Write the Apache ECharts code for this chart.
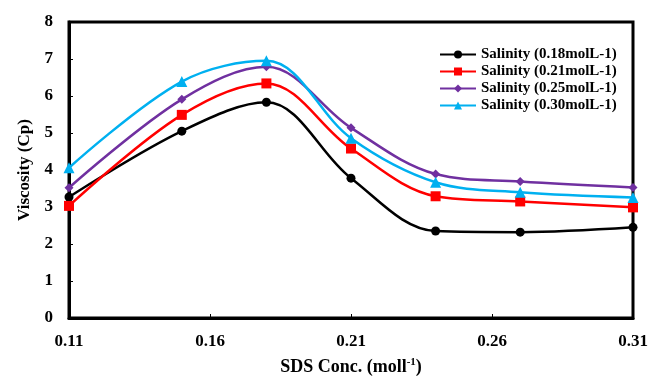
<!DOCTYPE html>
<html>
<head>
<meta charset="utf-8">
<script src="https://cdn.jsdelivr.net/npm/echarts@6/dist/echarts.min.js"></script>
<style>
  html, body { margin: 0; padding: 0; background: #fff; }
  #chart { width: 651px; height: 376px; }
</style>
</head>
<body>
<div id="chart"></div>
<script>
// SDS concentration (x) and viscosity (Cp) per salinity
const sdsConc = [0.11, 0.15, 0.18, 0.21, 0.24, 0.27, 0.31];
const xTicks = [0.11, 0.16, 0.21, 0.26, 0.31];
const sal018 = [3.27, 5.05, 5.83, 3.78, 2.35, 2.32, 2.45];
const sal021 = [3.03, 5.49, 6.34, 4.58, 3.29, 3.15, 2.99];
const sal025 = [3.52, 5.91, 6.79, 5.14, 3.89, 3.69, 3.53];
const sal030 = [4.06, 6.39, 6.95, 4.86, 3.67, 3.40, 3.26];

const font = 'Liberation Serif';
const pair = ys => sdsConc.map((x, i) => [x, ys[i]]);

function line(name, data, color, symbol, size) {
  return {
    name,
    type: 'line',
    smooth: 0.35,
    data: pair(data),
    symbol,
    symbolSize: size,
    lineStyle: { color, width: 2.5 },
    itemStyle: { color }
  };
}

const chart = echarts.init(document.getElementById('chart'));
chart.setOption({
  backgroundColor: '#fff',
  animation: false,
  grid: {
    left: 69, right: 18, top: 22, bottom: 58,
    outerBoundsMode: 'none',
    show: true, borderColor: '#000', borderWidth: 3
  },
  legend: {
    orient: 'vertical',
    left: 434,
    top: 42,
    itemWidth: 36,
    itemHeight: 10,
    itemGap: 2,
    textStyle: { fontFamily: font, fontWeight: 'bold', fontSize: 15, color: '#000', lineHeight: 14 }
  },
  xAxis: {
    type: 'value',
    min: 0.11,
    max: 0.31,
    name: '{a|SDS Conc. (moll}{s|-1}{a|)}',
    nameLocation: 'middle',
    nameGap: 39,
    nameTextStyle: {
      rich: {
        a: { fontFamily: font, fontWeight: 'bold', fontSize: 18, color: '#000' },
        s: { fontFamily: font, fontWeight: 'bold', fontSize: 11, color: '#000', verticalAlign: 'top', padding: [0, 0, 9, 0] }
      }
    },
    axisLine: { lineStyle: { color: '#000', width: 3 } },
    axisTick: { inside: true, length: 4, customValues: xTicks, lineStyle: { color: '#000' } },
    axisLabel: {
      customValues: xTicks,
      margin: 15,
      formatter: v => v.toFixed(2),
      fontFamily: font, fontWeight: 'bold', fontSize: 17, color: '#000'
    },
    splitLine: { show: false }
  },
  yAxis: {
    type: 'value',
    min: 0,
    max: 8,
    interval: 1,
    name: 'Viscosity (Cp)',
    nameLocation: 'middle',
    nameGap: 36,
    nameTextStyle: { fontFamily: font, fontWeight: 'bold', fontSize: 17, color: '#000' },
    axisLine: { show: true, lineStyle: { color: '#000', width: 3 } },
    axisTick: { show: true, inside: true, length: 4, lineStyle: { color: '#000' } },
    axisLabel: { margin: 16, fontFamily: font, fontWeight: 'bold', fontSize: 17, color: '#000' },
    splitLine: { show: false }
  },
  series: [
    line('Salinity (0.18molL-1)', sal018, '#000000', 'circle', 9),
    line('Salinity (0.21molL-1)', sal021, '#ff0000', 'rect', 10),
    line('Salinity (0.25molL-1)', sal025, '#7030a0', 'diamond', 9),
    line('Salinity (0.30molL-1)', sal030, '#00b0f0', 'triangle', 11)
  ]
});
</script>
</body>
</html>
